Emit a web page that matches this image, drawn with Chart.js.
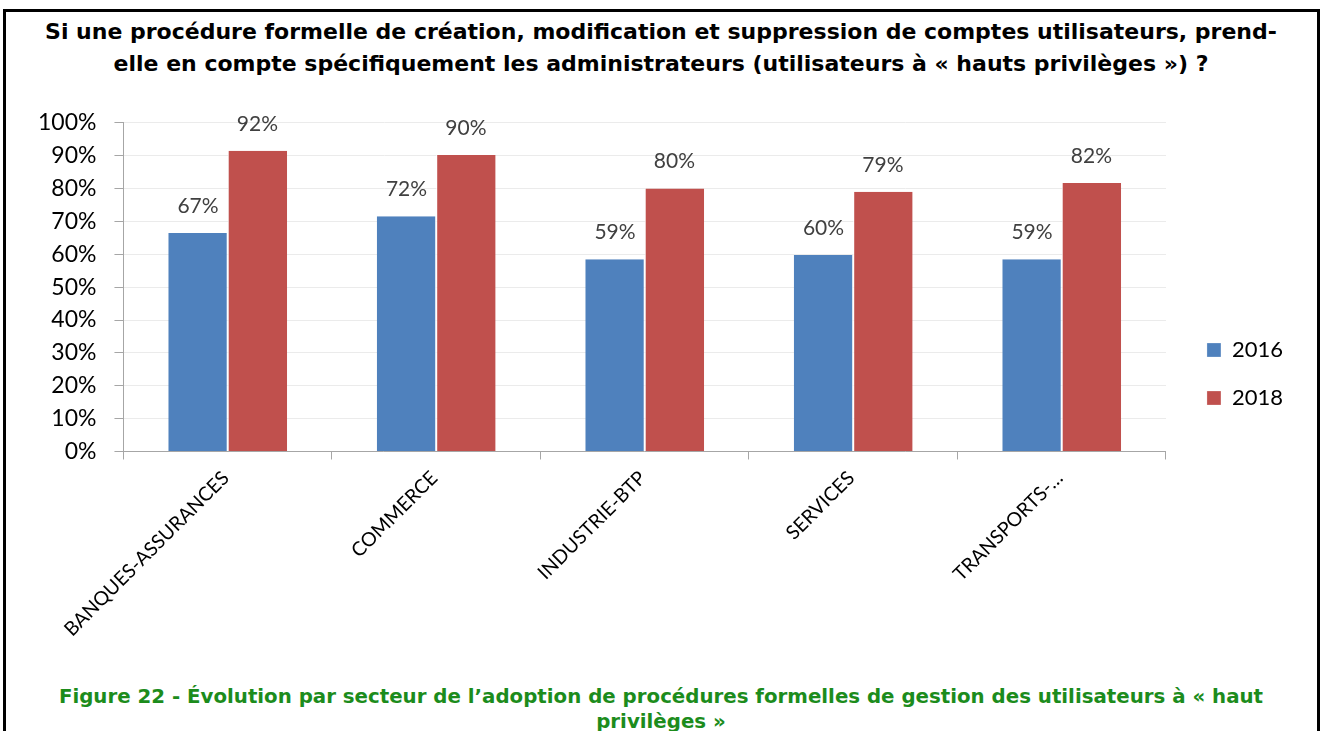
<!DOCTYPE html>
<html>
<head>
<meta charset="utf-8">
<script src="https://cdn.jsdelivr.net/npm/chart.js@4.4.0/dist/chart.umd.min.js"></script>
<style>
body { margin:0; width:1322px; height:731px; overflow:hidden; background:#fff; position:relative; }
#frame { position:absolute; left:3px; top:9px; width:1311px; height:760px; border:3px solid #000; }
#title { position:absolute; left:0; top:16px; width:1322px; text-align:center; font-family:"DejaVu Sans", sans-serif; font-weight:bold; font-size:22px; line-height:32px; white-space:nowrap; color:#000; }
#caption { position:absolute; left:0; top:684px; width:1322px; text-align:center; font-family:"DejaVu Sans", sans-serif; font-weight:bold; font-size:19.8px; line-height:25px; white-space:nowrap; color:#1c8c1c; }
#wrap { position:absolute; left:6px; top:91px; width:1305px; height:557px; }
</style>
</head>
<body>
<div id="frame"></div>
<div id="title">Si une procédure formelle de création, modification et suppression de comptes utilisateurs, prend-<br>elle en compte spécifiquement les administrateurs (utilisateurs à « hauts privilèges ») ?</div>
<div id="wrap"><canvas id="chart"></canvas></div>
<div id="caption">Figure 22 - Évolution par secteur de l’adoption de procédures formelles de gestion des utilisateurs à « haut<br>privilèges »</div>
<script>
var sectors = ["BANQUES-ASSURANCES", "COMMERCE", "INDUSTRIE-BTP", "SERVICES", "TRANSPORTS-…"];
var years = ["2016", "2018"];
var values2016 = [0.665, 0.716, 0.585, 0.598, 0.585];
var values2018 = [0.915, 0.902, 0.80, 0.79, 0.817];
var yTicks = [0, 0.1, 0.2, 0.3, 0.4, 0.5, 0.6, 0.7, 0.8, 0.9, 1];

var labelPlugin = {
	id: "barLabels",
	afterDatasetsDraw: function (chart) {
		var ctx = chart.ctx;
		ctx.save();
		ctx.font = "21px Lato, sans-serif";
		ctx.fillStyle = "#404040";
		ctx.textAlign = "center";
		ctx.textBaseline = "middle";
		chart.data.datasets.forEach(function (ds, i) {
			var meta = chart.getDatasetMeta(i);
			meta.data.forEach(function (bar, j) {
				ctx.fillText(Math.round(ds.data[j] * 100) + "%", bar.x, bar.y - 27);
			});
		});
		ctx.restore();
	}
};

var ctx = document.getElementById("chart");
var myChart = new Chart(ctx, {
	type: "bar",
	data: {
		labels: sectors,
		datasets: [{
			label: years[0],
			data: values2016,
			backgroundColor: "#4f81bd",
			borderColor: "#ffffff",
			borderWidth: { left: 0, right: 1, top: 0, bottom: 0 },
			borderSkipped: false,
			categoryPercentage: 0.57,
			barPercentage: 1
		}, {
			label: years[1],
			data: values2018,
			backgroundColor: "#c0504d",
			borderColor: "#ffffff",
			borderWidth: { left: 1, right: 0, top: 0, bottom: 0 },
			borderSkipped: false,
			categoryPercentage: 0.57,
			barPercentage: 1
		}]
	},
	options: {
		responsive: true,
		maintainAspectRatio: false,
		animation: false,
		layout: { padding: { top: 9, right: 18, left: 14, bottom: 0 } },
		plugins: {
			legend: {
				position: "right",
				labels: {
					font: { family: "Lato, sans-serif", size: 22 },
					color: "#000",
					boxWidth: 14,
					boxHeight: 14,
					padding: 26
				}
			},
			tooltip: { enabled: false }
		},
		scales: {
			x: {
				grid: { display: true, drawOnChartArea: false, color: "#a6a6a6", tickLength: 8, offset: true },
				border: { color: "#a6a6a6", width: 1 },
				ticks: {
					minRotation: 45,
					maxRotation: 45,
					autoSkip: false,
					labelOffset: -2,
					padding: 7,
					font: { family: "Lato, sans-serif", size: 19.5 },
					color: "#000"
				}
			},
			y: {
				min: 0,
				max: 1,
				afterBuildTicks: function (axis) {
					axis.ticks = yTicks.map(function (v) { return { value: v }; });
				},
				grid: { color: "#ebebeb", tickLength: 9, tickColor: "#a6a6a6" },
				border: { color: "#a6a6a6", width: 1 },
				ticks: {
					font: { family: "Lato, sans-serif", size: 23 },
					color: "#000",
					padding: 18,
					callback: function (v) { return Math.round(v * 100) + "%"; }
				}
			},
			gap: {
				position: "right",
				grid: { display: false },
				border: { display: false },
				ticks: { display: false },
				afterFit: function (scale) { scale.width = 15; }
			}
		}
	},
	plugins: [labelPlugin]
});
</script>
</body>
</html>
